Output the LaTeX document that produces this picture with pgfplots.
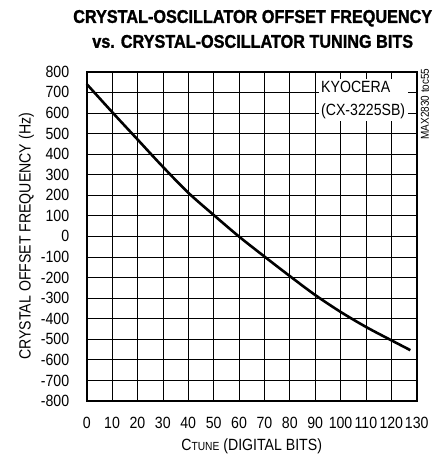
\documentclass[border=0pt]{standalone}
\usepackage{fontspec}
\setmainfont{Liberation Sans}[FakeStretch=0.87]
\newfontfamily\titlefont{Liberation Sans}[FakeStretch=0.88, FakeBold=1.4]
\usepackage{pgfplots}
\pgfplotsset{compat=1.18}
\begin{document}
\begin{tikzpicture}[x=1bp,y=1bp]
\useasboundingbox (-86.7bp,-60bp) rectangle (348.3bp,401bp);
\begin{axis}[
  at={(0,0)}, anchor=south west,
  scale only axis, width=330bp, height=329.3bp,
  xmin=0, xmax=130, ymin=-800, ymax=800,
  xtick={0,10,...,130}, ytick={-800,-700,...,800},
  grid=major,
  major grid style={black, line width=0.7bp},
  axis line style={line width=2bp},
  major tick length=0pt,
  tick label style={font=\fontsize{16.3}{17}\selectfont},
  /pgf/number format/assume math mode=true,
  /pgf/number format/1000 sep={},
  xticklabel style={yshift=-13bp, inner xsep=0pt},
  yticklabel style={xshift=-14bp},
  xlabel={C{\fontsize{11.8}{12}\selectfont TUNE} (DIGITAL BITS)},
  xlabel style={font=\fontsize{16.3}{17}\selectfont, yshift=-3bp},
  ylabel={CRYSTAL OFFSET FREQUENCY (Hz)},
  ylabel style={font=\fontsize{16.3}{17}\selectfont, yshift=0bp},
  clip=false,
]
\addplot[black, line width=2.6bp, smooth] coordinates {
(0,740) (10,604) (20,471) (30,338) (40,212) (50,104) (60,-1) (70,-98)
(80,-193) (90,-285) (100,-367) (110,-440) (120,-505) (127.5,-553)
};
\node[fill=white, anchor=north west, align=left, inner xsep=2.5bp, inner ysep=2bp,
  font=\fontsize{16.3}{23}\selectfont] at (axis cs:91.3,764) {KYOCERA\\(CX-3225SB)};
\node[rotate=90, font=\fontsize{11.5}{12}\selectfont, inner sep=0pt] at (axis cs:133.2,643) {MAX2830 toc55};
\end{axis}
\node[font=\titlefont\bfseries\fontsize{18.5}{25}\selectfont, align=center] at (166bp,372bp)
 {CRYSTAL-OSCILLATOR OFFSET FREQUENCY\\vs. CRYSTAL-OSCILLATOR TUNING BITS};
\end{tikzpicture}
\end{document}
